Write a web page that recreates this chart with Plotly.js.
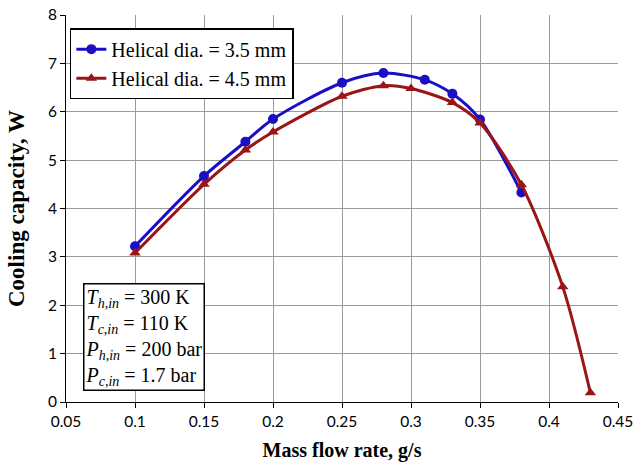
<!DOCTYPE html>
<html>
<head>
<meta charset="utf-8">
<script src="https://cdn.plot.ly/plotly-3.0.1.min.js"></script>
<style>html,body{margin:0;padding:0;background:#fff;}#chart{width:634px;height:462px;}</style>
</head>
<body>
<div id="chart"></div>
<script>
const seriesNames = ["Helical dia. = 3.5 mm", "Helical dia. = 4.5 mm"];
const flow35 = [0.10, 0.15, 0.18, 0.20, 0.25, 0.28, 0.31, 0.33, 0.35, 0.38];
const cap35 = [3.22, 4.67, 5.38, 5.85, 6.60, 6.80, 6.66, 6.37, 5.84, 4.33];
const flow45 = [0.10, 0.15, 0.18, 0.20, 0.25, 0.28, 0.30, 0.33, 0.35, 0.38, 0.41, 0.43];
const cap45 = [3.08, 4.50, 5.21, 5.58, 6.32, 6.54, 6.48, 6.19, 5.77, 4.49, 2.38, 0.19];
const conditions = [
  "<i>T</i><sub><i>h,in</i></sub> = 300 K",
  "<i>T</i><sub><i>c,in</i></sub> = 110 K",
  "<i>P</i><sub><i>h,in</i></sub> = 200 bar",
  "<i>P</i><sub><i>c,in</i></sub> = 1.7 bar"
];

const serif = "Liberation Serif, Times New Roman, serif";
const sans = "Lato, Open Sans, sans-serif";

const traces = [
  {x: flow35, y: cap35, name: seriesNames[0], mode: "lines+markers", type: "scatter",
   line: {color: "#1a0fc4", width: 3, shape: "spline", smoothing: 0.8},
   marker: {symbol: "circle", size: 10, color: "#1a0fc4"}},
  {x: flow45, y: cap45, name: seriesNames[1], mode: "lines+markers", type: "scatter",
   line: {color: "#9a1616", width: 3, shape: "spline", smoothing: 0.8},
   marker: {symbol: "triangle-up", size: 10, color: "#9a1616"}}
];

const layout = {
  width: 634, height: 462,
  margin: {l: 66, r: 16, t: 15, b: 60},
  paper_bgcolor: "#fff", plot_bgcolor: "#fff",
  showlegend: true,
  legend: {x: 0.007, y: 0.966, xanchor: "left", yanchor: "top",
    bgcolor: "#fff", bordercolor: "#000", borderwidth: 1.5,
    font: {family: serif, size: 20, color: "#000"},
    tracegroupgap: 0, itemwidth: 30},
  xaxis: {range: [0.05, 0.45], dtick: 0.05, tick0: 0.05,
    showline: true, linecolor: "#000", linewidth: 1, mirror: false,
    ticks: "outside", ticklen: 5, tickcolor: "#000",
    showgrid: true, gridcolor: "#9a9a9a", gridwidth: 1, zeroline: false,
    tickfont: {family: sans, size: 15.5, color: "#000"},
    title: {text: "<b>Mass flow rate, g/s</b>", font: {family: serif, size: 20, color: "#000"}, standoff: 15}},
  yaxis: {range: [0, 8], dtick: 1,
    showline: true, linecolor: "#000", linewidth: 1,
    ticks: "outside", ticklen: 5, tickcolor: "#000",
    showgrid: true, gridcolor: "#9a9a9a", gridwidth: 1, zeroline: false,
    tickfont: {family: sans, size: 15.5, color: "#000"},
    title: {text: "<b>Cooling capacity, W</b>", font: {family: serif, size: 23, color: "#000"}, standoff: 16}},
  annotations: [{
    xref: "paper", yref: "paper", x: 0.031, y: 0.307, xanchor: "left", yanchor: "top",
    text: conditions.join("<br>"), align: "left", showarrow: false,
    font: {family: serif, size: 20, color: "#000"},
    bgcolor: "#fff", bordercolor: "#000", borderwidth: 1.5, borderpad: 1
  }]
};

Plotly.newPlot("chart", traces, layout, {displayModeBar: false, staticPlot: true});
</script>
</body>
</html>
